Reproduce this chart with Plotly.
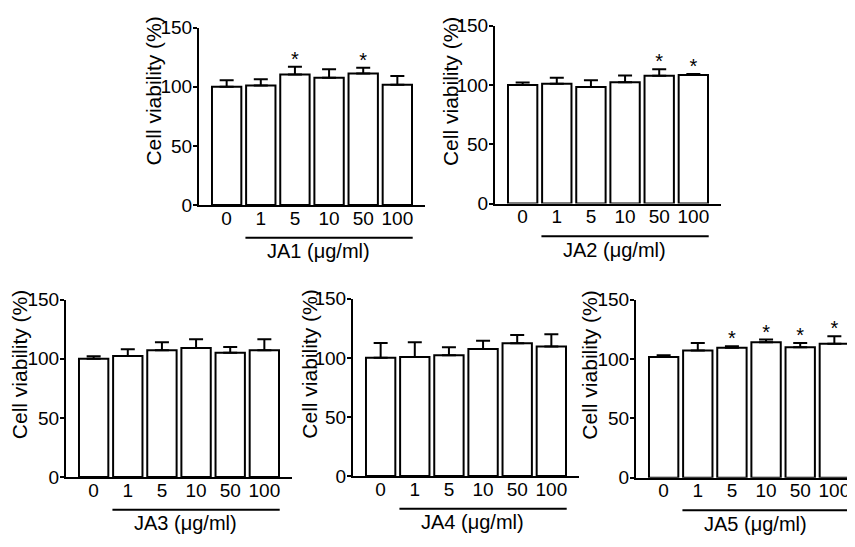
import plotly.graph_objects as go

W, H = 855, 547
OFF = 8  # page body margin of the html page

categories = ["0", "1", "5", "10", "50", "100"]

ja1_mean = [100.0, 101.0, 110.4, 107.7, 111.2, 101.8]
ja1_err = [5.5, 5.3, 6.5, 7.1, 4.9, 7.3]
ja1_sig = [0, 0, 1, 0, 1, 0]

ja2_mean = [100.0, 101.1, 98.4, 102.4, 107.8, 108.4]
ja2_err = [2.0, 4.9, 5.6, 5.7, 5.4, 0.8]
ja2_sig = [0, 0, 0, 0, 1, 1]

ja3_mean = [100.0, 102.4, 107.3, 109.2, 105.2, 107.3]
ja3_err = [2.2, 5.8, 6.8, 7.4, 4.9, 9.3]
ja3_sig = [0, 0, 0, 0, 0, 0]

ja4_mean = [100.0, 100.8, 102.2, 107.4, 112.3, 109.6]
ja4_err = [12.6, 12.5, 6.8, 7.1, 7.0, 10.3]
ja4_sig = [0, 0, 0, 0, 0, 0]

ja5_mean = [101.8, 107.3, 109.5, 114.1, 110.0, 113.0]
ja5_err = [1.4, 6.2, 1.3, 2.4, 3.5, 6.2]
ja5_sig = [0, 0, 1, 1, 1, 1]

compound_names = ["JA1", "JA2", "JA3", "JA4", "JA5"]
y_ticks = [0, 50, 100, 150]
y_title = "Cell viability (%)"
unit_text = " (\u03bcg/ml)"

means = [ja1_mean, ja2_mean, ja3_mean, ja4_mean, ja5_mean]
errs = [ja1_err, ja2_err, ja3_err, ja4_err, ja5_err]
sigs = [ja1_sig, ja2_sig, ja3_sig, ja4_sig, ja5_sig]

# ---- target pixel layout of each panel (screen pixels): x_left, x_right, y_of_0, y_of_150
boxes = [
    (199, 425, 202.5, 18),
    (495, 721, 201, 16),
    (66, 292, 485.3, 301),
    (353, 579, 484.3, 300),
    (636, 863, 486, 301),
]
# y-title centers (screen pixels)
title_pos = [(153.5, 84), (450, 85), (19, 369), (309.5, 368), (589.5, 369)]


def fx(px):
    return (px - OFF) / W


def fy(py):
    return 1 - (py - OFF) / H


FONT = "Liberation Sans, Arial, sans-serif"
px_per_unit = (425 - 199) / 6.62
xmin = -0.81

fig = go.Figure()
layout = dict(
    width=W, height=H, autosize=False,
    margin=dict(l=0, r=0, t=0, b=0),
    paper_bgcolor="white", plot_bgcolor="white",
    showlegend=False,
    font=dict(family=FONT, color="black", size=19),
)
shapes = []
annotations = []

for i, (name, m, e, s, box, tp) in enumerate(zip(compound_names, means, errs, sigs, boxes, title_pos)):
    k = i + 1
    xs = "" if k == 1 else str(k)
    xl, xr, y0, y150 = box
    xr_vis = min(xr, W + OFF)
    xmax = xmin + (xr_vis - xl) / px_per_unit
    fig.add_trace(go.Bar(
        x=list(range(len(categories))), y=m,
        width=0.86,
        marker=dict(color="white", line=dict(color="black", width=2)),
        error_y=dict(type="data", array=e, arrayminus=[0] * len(e), symmetric=False,
                     color="black", thickness=2, width=7),
        xaxis="x" + xs, yaxis="y" + xs,
    ))
    sx = [j for j in range(len(categories)) if s[j]]
    sy = [m[j] + e[j] + 5 for j in sx]
    if sx:
        fig.add_trace(go.Scatter(
            x=sx, y=sy, mode="text", text=["*"] * len(sx),
            textposition="middle center",
            textfont=dict(size=20, color="black", family=FONT),
            cliponaxis=False,
            xaxis="x" + xs, yaxis="y" + xs,
        ))
    layout["xaxis" + xs] = dict(
        domain=[fx(xl), min(fx(xr_vis), 1.0)], anchor="y" + xs,
        range=[xmin, xmax], showline=True, linecolor="black", linewidth=2,
        ticks="", tickvals=list(range(len(categories))), ticktext=categories,
        tickfont=dict(size=19, family=FONT, color="black"),
        ticklabelstandoff=-5,
        showgrid=False, zeroline=False, fixedrange=True,
    )
    layout["yaxis" + xs] = dict(
        domain=[fy(y0), fy(y150)], anchor="x" + xs,
        range=[0, 150], tickvals=y_ticks, showline=True, linecolor="black", linewidth=2,
        ticks="outside", ticklen=4, tickwidth=2, tickcolor="black",
        tickfont=dict(size=19, family=FONT, color="black"),
        ticklabelstandoff=-3,
        showgrid=False, zeroline=False, fixedrange=True,
    )
    # underline for treated groups
    shapes.append(dict(
        type="line", xref="x" + xs, yref="paper",
        x0=0.55, x1=5.45, y0=fy(y0 + 34), y1=fy(y0 + 34),
        line=dict(color="black", width=2),
    ))
    annotations.append(dict(
        xref="x" + xs, yref="paper", x=2.68, y=fy(y0 + 48),
        text=name + unit_text, showarrow=False, xanchor="center", yanchor="middle",
        font=dict(size=20, family=FONT, color="black"),
    ))
    annotations.append(dict(
        xref="paper", yref="paper", x=fx(tp[0]), y=fy(tp[1]),
        text=y_title, textangle=-90, showarrow=False,
        xanchor="center", yanchor="middle",
        font=dict(size=21, family=FONT, color="black"),
    ))

layout["shapes"] = shapes
layout["annotations"] = annotations
fig.update_layout(**layout)
fig.write_html("out.html")
